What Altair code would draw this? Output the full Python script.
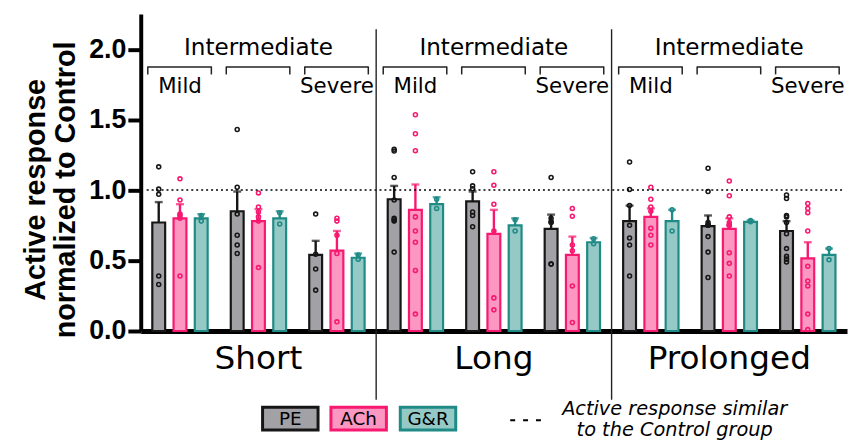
import altair as alt
import pandas as pd

sections = ["Short", "Long", "Prolonged"]
groups = ["Mild", "Intermediate", "Severe"]
treatments = ["PE", "ACh", "G&R"]
fill_colors = ["#a2a1a6", "#fb97c0", "#95c9c5"]
stroke_colors = ["#161616", "#f7186f", "#1f8a86"]
dot_colors = ["#3a3a3a", "#f5287b", "#1f8a86"]

# rows: Short|Mild, Short|Intermediate, Short|Severe, Long|..., Prolonged|...
# columns: PE, ACh, G&R
means = [
    [0.77, 0.80, 0.80],
    [0.85, 0.78, 0.80],
    [0.54, 0.57, 0.52],
    [0.935, 0.86, 0.90],
    [0.92, 0.69, 0.75],
    [0.725, 0.54, 0.63],
    [0.78, 0.81, 0.78],
    [0.745, 0.725, 0.775],
    [0.71, 0.515, 0.54],
]
sem_tops = [
    [0.915, 0.90, 0.83],
    [0.99, 0.865, 0.85],
    [0.64, 0.71, 0.55],
    [1.03, 1.04, 0.95],
    [0.99, 0.86, 0.80],
    [0.826, 0.67, 0.66],
    [0.89, 0.87, 0.86],
    [0.82, 0.80, 0.785],
    [0.78, 0.63, 0.585],
]
points = [
    [[1.165, 1.007, 0.97, 0.39, 0.33], [1.08, 0.93, 0.83, 0.82, 0.80, 0.39], [0.82, 0.78]],
    [[1.43, 1.02, 0.83, 0.68, 0.61, 0.55], [0.98, 0.88, 0.845, 0.81, 0.78, 0.45], [0.84, 0.76]],
    [[0.83, 0.545, 0.44, 0.29], [0.80, 0.78, 0.68, 0.55, 0.065], [0.54, 0.51]],
    [[1.29, 1.277, 1.09, 0.93, 0.80, 0.78, 0.79, 0.56], [1.535, 1.40, 1.28, 0.81, 0.71, 0.63, 0.43, 0.12], [0.935, 0.87]],
    [[1.13, 1.03, 1.01, 0.845, 0.82, 0.74], [1.13, 1.035, 0.90, 0.71, 0.235, 0.15], [0.79, 0.71]],
    [[1.09, 0.80, 0.775, 0.77, 0.475, 0.475], [0.87, 0.815, 0.61, 0.57, 0.32, 0.06], [0.655, 0.62]],
    [[1.20, 1.005, 0.89, 0.75, 0.66, 0.61, 0.39], [1.02, 0.935, 0.88, 0.85, 0.73, 0.68, 0.61], [0.86, 0.71]],
    [[1.155, 0.99, 0.77, 0.75, 0.75, 0.75, 0.67, 0.56, 0.38], [1.065, 0.96, 0.81, 0.77, 0.75, 0.75, 0.75, 0.555, 0.48, 0.39], [0.785, 0.775]],
    [[0.965, 0.94, 0.82, 0.81, 0.77, 0.69, 0.585, 0.53, 0.51, 0.49], [0.905, 0.87, 0.84, 0.71, 0.46, 0.355, 0.32, 0.12, 0.01], [0.585, 0.505]],
]
y_ticks = [0, 0.5, 1.0, 1.5, 2.0]
y_title = ["Active response", "normalized to Control"]
legend_note = ["Active response similar", "to the Control group"]

slots = [f"{s}|{g}" for s in sections for g in groups]

bar_rows, pt_rows = [], []
for i, slot in enumerate(slots):
    for j, t in enumerate(treatments):
        bar_rows.append({"slot": slot, "treatment": t, "mean": means[i][j], "err": sem_tops[i][j]})
        for v in points[i][j]:
            pt_rows.append({"slot": slot, "treatment": t, "value": v})
bars_df = pd.DataFrame(bar_rows)
pts_df = pd.DataFrame(pt_rows)
grp_df = pd.DataFrame({
    "slot": slots,
    "top": ["Intermediate" if s.endswith("|Intermediate") else "" for s in slots],
    "sub": [g if g != "Intermediate" else "" for s in sections for g in groups],
})
sep_df = pd.DataFrame({"slot": [f"{s}|Mild" for s in sections[1:]]})

W, H = 713, 320
FONT = "DejaVu Sans"

xscale = alt.Scale(domain=slots, paddingInner=0, paddingOuter=0)
xaxis = alt.Axis(
    title=None, ticks=False, domainWidth=5, domainColor="black",
    labelExpr="indexof(datum.value, 'Intermediate') >= 0 ? split(datum.value, '|')[0] : ''",
    labelFont=FONT, labelFontSize=33, labelColor="black", labelPadding=12,
    labelAngle=0, labelOverlap=False, labelBound=False,
)
yscale = alt.Scale(domain=[0, 2.25], nice=False, zero=True)
yaxis = alt.Axis(
    values=y_ticks, format=".1f", title=y_title, grid=False,
    domainWidth=4, domainColor="black", tickWidth=4, tickSize=13, tickColor="black",
    labelFont="Liberation Sans", labelFontSize=27, labelFontWeight="bold", labelColor="black",
    labelPadding=2, titleFont="Liberation Sans", titleFontSize=29, titleFontWeight="bold",
    titleColor="black", titlePadding=8, titleLineHeight=31, titleY=177,
)

def X(bp=None):
    if bp is None:
        return alt.X("slot:N", scale=xscale, axis=xaxis, sort=slots)
    return alt.X("slot:N", scale=xscale, axis=xaxis, sort=slots, bandPosition=bp)

xoff = alt.XOffset("treatment:N", sort=treatments,
                   scale=alt.Scale(domain=treatments, paddingInner=0.395, paddingOuter=0.544))
fill_scale = alt.Scale(domain=treatments, range=fill_colors)
stroke_scale = alt.Scale(domain=treatments, range=stroke_colors)
dot_scale = alt.Scale(domain=treatments, range=dot_colors)

bars = alt.Chart(bars_df).mark_bar(strokeWidth=2.2).encode(
    x=X(), xOffset=xoff,
    y=alt.Y("mean:Q", scale=yscale, axis=yaxis),
    fill=alt.Fill("treatment:N", scale=fill_scale, legend=None),
    stroke=alt.Stroke("treatment:N", scale=stroke_scale, legend=None),
)
err_rule = alt.Chart(bars_df).mark_rule(strokeWidth=2.4).encode(
    x=X(), xOffset=xoff,
    y=alt.Y("mean:Q", scale=yscale, axis=yaxis), y2="err:Q",
    color=alt.Color("treatment:N", scale=stroke_scale, legend=None),
)
err_cap = alt.Chart(bars_df).mark_tick(size=8, thickness=2.4).encode(
    x=X(), xOffset=xoff,
    y=alt.Y("err:Q", scale=yscale, axis=yaxis),
    color=alt.Color("treatment:N", scale=stroke_scale, legend=None),
)
dots = alt.Chart(pts_df).mark_point(shape="circle", filled=False, size=16, strokeWidth=1.6, opacity=1).encode(
    x=X(), xOffset=xoff,
    y=alt.Y("value:Q", scale=yscale, axis=yaxis),
    color=alt.Color("treatment:N", scale=dot_scale, legend=None),
)
ref_line = alt.Chart(pd.DataFrame({"a": [0]})).mark_rule(strokeDash=[2, 3], strokeWidth=1.5, color="black").encode(
    y=alt.Y(datum=1.0, scale=yscale, axis=yaxis), x=alt.value(6), x2=alt.value(W - 4),
)
seps = alt.Chart(sep_df).mark_rule(strokeWidth=1.4, color="#222").encode(
    x=X(0), y=alt.value(15.5), y2=alt.value(389.5),
)
top_text = alt.Chart(grp_df).mark_text(font=FONT, fontSize=23.3, color="black", baseline="middle").encode(
    x=X(), y=alt.value(34), text="top:N",
)
sub_text = alt.Chart(grp_df).mark_text(font=FONT, fontSize=21.5, color="black", baseline="middle").encode(
    x=X(), y=alt.value(74), text="sub:N",
)
br_h = alt.Chart(grp_df).mark_rule(strokeWidth=1.5, color="#222").encode(
    x=X(0.09), x2=alt.X2("slot:N", bandPosition=0.9), y=alt.value(53.5),
)
br_l = alt.Chart(grp_df).mark_rule(strokeWidth=1.5, color="#222").encode(
    x=X(0.09), y=alt.value(53), y2=alt.value(61),
)
br_r = alt.Chart(grp_df).mark_rule(strokeWidth=1.5, color="#222").encode(
    x=X(0.9), y=alt.value(53), y2=alt.value(61),
)

one = pd.DataFrame({"a": [0]})
legend_layers = []
box_x = [(123, 179), (192, 248), (262, 318)]
for j, t in enumerate(treatments):
    x0, x1 = box_x[j]
    legend_layers.append(
        alt.Chart(one).mark_rect(fill=fill_colors[j], stroke=stroke_colors[j], strokeWidth=3).encode(
            x=alt.value(x0), x2=alt.value(x1), y=alt.value(397), y2=alt.value(420),
        )
    )
    legend_layers.append(
        alt.Chart(one).mark_text(font=FONT, fontSize=18.5, color="black", baseline="middle", align="center").encode(
            x=alt.value((x0 + x1) / 2), y=alt.value(409), text=alt.value(t),
        )
    )
legend_layers.append(
    alt.Chart(one).mark_rule(strokeDash=[5, 8], strokeWidth=2, color="black").encode(
        x=alt.value(373), x2=alt.value(405), y=alt.value(410),
    )
)
for k, line in enumerate(legend_note):
    legend_layers.append(
        alt.Chart(one).mark_text(font=FONT, fontSize=19.5, fontStyle="italic", color="black",
                                 baseline="middle", align="center").encode(
            x=alt.value(539), y=alt.value(398.5 + 22 * k), text=alt.value(line),
        )
    )

chart = alt.layer(
    bars, err_rule, err_cap, dots, ref_line, seps, top_text, sub_text, br_h, br_l, br_r, *legend_layers
).properties(
    width=W, height=H,
    autosize=alt.AutoSizeParams(type="none"),
    padding={"left": 134, "top": 4, "right": 2, "bottom": 111},
).configure_view(stroke=None)

chart.save("out.html", embed_options={"renderer": "svg", "actions": False})
